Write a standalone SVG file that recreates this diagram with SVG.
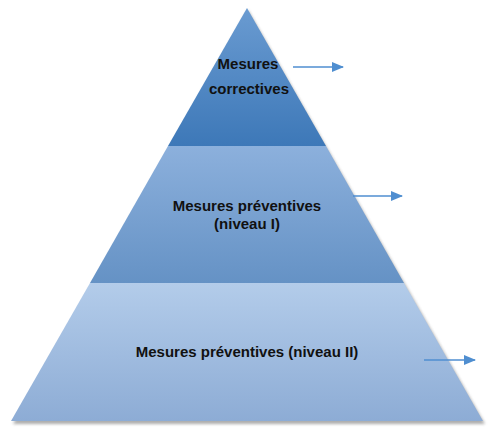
<svg xmlns="http://www.w3.org/2000/svg" width="500" height="437" viewBox="0 0 500 437">
<defs>
<linearGradient id="g1" x1="0" y1="0" x2="0" y2="1"><stop offset="0" stop-color="#6a9bd1"/><stop offset="1" stop-color="#3d78b8"/></linearGradient>
<linearGradient id="g2" x1="0" y1="0" x2="0" y2="1"><stop offset="0" stop-color="#8cb0dc"/><stop offset="1" stop-color="#6592c5"/></linearGradient>
<linearGradient id="g3" x1="0" y1="0" x2="0" y2="1"><stop offset="0" stop-color="#b3ccea"/><stop offset="1" stop-color="#8dacd5"/></linearGradient>
<filter id="sh" x="-10%" y="-10%" width="120%" height="130%"><feGaussianBlur stdDeviation="1.5"/></filter>
<marker id="ah" viewBox="0 0 12 10" refX="11" refY="5" markerWidth="12" markerHeight="10" markerUnits="userSpaceOnUse" orient="auto"><path d="M0,0 L12,5 L0,10 Z" fill="#4f8ed0"/></marker>
</defs>
<style>
text{font-family:"Liberation Sans",Arial,sans-serif;font-weight:bold;font-size:15px;fill:#111;text-anchor:middle}
.c{stroke:#4f8ed0;stroke-width:1.6;fill:none;marker-end:url(#ah)}
</style>
<rect width="500" height="437" fill="#fff"/>
<polygon points="248,10 485,424 13,424" fill="#777" opacity="0.6" filter="url(#sh)"/>
<g id="tier-top">
<polygon points="247,8 326,146 168,146" fill="url(#g1)"/>
<text x="248" y="69">Mesures</text>
<text x="249" y="94">correctives</text>
</g>
<g id="tier-middle">
<polygon points="168,146 326,146 404,283 90,283" fill="url(#g2)"/>
<text x="247" y="211">Mesures préventives</text>
<text x="247" y="229">(niveau I)</text>
</g>
<g id="tier-bottom">
<polygon points="90,283 404,283 483,421 11,421" fill="url(#g3)"/>
<text x="247" y="357">Mesures préventives (niveau II)</text>
</g>
<g id="connectors">
<line class="c" x1="293" y1="67" x2="343" y2="67"/>
<line class="c" x1="353" y1="196" x2="402" y2="196"/>
<line class="c" x1="424" y1="360" x2="475" y2="360"/>
</g>
</svg>
